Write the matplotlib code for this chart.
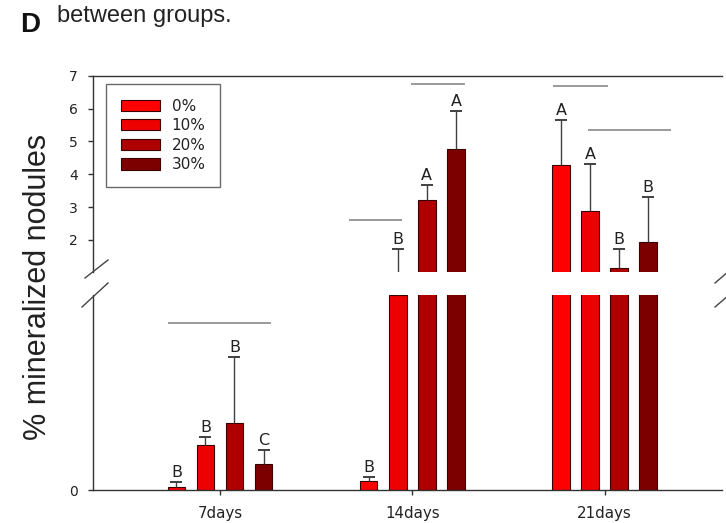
import matplotlib
matplotlib.use("Agg")
import matplotlib.pyplot as plt
from matplotlib.lines import Line2D
import numpy as np

plt.rcParams['font.family'] = ['DejaVu Sans']

# ---- data ----
categories = ['7days', '14days', '21days']
groups = ['0%', '10%', '20%', '30%']
colors = ['#FF0000', '#EE0000', '#AE0000', '#7C0000']
means_0 = [0.017, 0.048, 4.29]
means_10 = [0.23, 1.0, 2.89]
means_20 = [0.345, 3.20, 1.14]
means_30 = [0.132, 4.78, 1.94]
errs_0 = [0.026, 0.020, 1.36]
errs_10 = [0.04, 0.73, 1.41]
errs_20 = [0.339, 0.48, 0.58]
errs_30 = [0.073, 1.15, 1.36]
letters_0 = ['B', 'B', 'A']
letters_10 = ['B', 'B', 'A']
letters_20 = ['B', 'A', 'B']
letters_30 = ['C', 'A', 'B']
means = [means_0, means_10, means_20, means_30]
errs = [errs_0, errs_10, errs_20, errs_30]
letters = [letters_0, letters_10, letters_20, letters_30]

# significance lines: (x0, x1, y, axis)
sig_lines = [(-0.271, 0.266, 0.855, 'low'),
             (0.672, 0.948, 2.59, 'up'),
             (0.995, 1.276, 6.75, 'up'),
             (1.729, 2.016, 6.69, 'up'),
             (1.911, 2.344, 5.36, 'up')]

lower_lim = (0, 1.0)
upper_lim = (1.02, 7.0)
upper_ticks = [2, 3, 4, 5, 6, 7]

W, H = 726, 523
fig = plt.figure(figsize=(W / 100, H / 100), dpi=100)

def fx(px):
    return px / W

def fy(py):
    return 1 - py / H

left, right = 93, 722
ax_up = fig.add_axes([fx(left), fy(272), fx(right) - fx(left), fy(75.7) - fy(272)])
ax_lo = fig.add_axes([fx(left), fy(490), fx(right) - fx(left), fy(295) - fy(490)])

x = np.arange(len(categories))
width = 0.091
step = 0.151
spine_c = '#333333'
txt_c = '#222222'
err_c = '#404040'

for ax in (ax_up, ax_lo):
    for i, g in enumerate(groups):
        xs = x + (i - 1.5) * step
        m = np.array(means[i])
        e = np.array(errs[i])
        ax.bar(xs, m, width, color=colors[i], edgecolor='#3a0000',
               linewidth=0.8, label=g, zorder=2)
        # upper-only error bars (line + top cap)
        ax.vlines(xs, m, m + e, colors=err_c, linewidth=1.0, zorder=3)
        ax.plot(xs, m + e, linestyle='none', marker='_', markersize=9,
                markeredgewidth=1.4, color=err_c, zorder=3)
    ax.set_xlim(-0.66, 2.61)
    ax.spines['right'].set_visible(False)
    for s in ax.spines.values():
        s.set_color(spine_c)
        s.set_linewidth(1.0)
    ax.tick_params(axis='y', direction='out', length=5 / 1.389, width=1,
                   color=spine_c, labelsize=10, pad=7.5, labelcolor=txt_c)

ax_up.set_ylim(*upper_lim)
ax_up.set_yticks(upper_ticks)
ax_up.spines['bottom'].set_visible(False)
ax_up.set_xticks([])

ax_lo.set_ylim(*lower_lim)
ax_lo.set_yticks([0])
ax_lo.spines['top'].set_visible(False)
ax_lo.set_xticks(x)
ax_lo.set_xticklabels(categories)
ax_lo.tick_params(axis='x', direction='out', length=5 / 1.389, width=1,
                  color=spine_c, labelsize=10.8, pad=8.0, labelcolor=txt_c)

# letters
for i in range(len(groups)):
    xs = x + (i - 1.5) * step
    for j in range(len(categories)):
        top = means[i][j] + errs[i][j]
        ax = ax_lo if top <= lower_lim[1] else ax_up
        ax.annotate(letters[i][j], (xs[j], top), xytext=(0, 1.5),
                    textcoords='offset points', ha='center', va='bottom',
                    fontsize=11.5, color=txt_c, zorder=4)

# significance lines
for x0, x1, yv, which in sig_lines:
    ax = ax_lo if which == 'low' else ax_up
    ax.plot([x0, x1], [yv, yv], color='#9a9a9a', lw=1.4, zorder=1,
            solid_capstyle='butt')

# legend
leg = ax_up.legend(loc='upper left', bbox_to_anchor=(fx(106), fy(84)),
                   bbox_transform=fig.transFigure, fontsize=11,
                   frameon=True, fancybox=False, handlelength=2.6,
                   handleheight=0.75, handletextpad=0.75, labelspacing=0.3,
                   borderpad=0.95, borderaxespad=0)
leg.get_frame().set_edgecolor('#444444')
leg.get_frame().set_linewidth(1.0)
for t in leg.get_texts():
    t.set_color(txt_c)

# break marks (figure coordinates)
marks = [((85, 278), (108, 260)), ((82, 307), (108, 283)),
         ((715, 283), (729, 271)), ((715, 307), (729, 295))]
for (x0, y0), (x1, y1) in marks:
    fig.add_artist(Line2D([fx(x0), fx(x1)], [fy(y0), fy(y1)],
                          transform=fig.transFigure, color='#444444', lw=1.0))

# y label
fig.text(fx(23), fy(287), '% mineralized nodules', rotation=90,
         ha='left', va='center', fontsize=22, color=txt_c,
         family='Liberation Sans')

# caption fragments
fig.text(fx(20), fy(32), 'D', fontsize=20, fontweight='bold', va='baseline',
         ha='left', color='#111111', family='Liberation Sans')
fig.text(fx(57), fy(22), 'between groups.', fontsize=17, va='baseline',
         ha='left', color=txt_c, family='Liberation Sans')

fig.savefig('out.png', dpi=100)
